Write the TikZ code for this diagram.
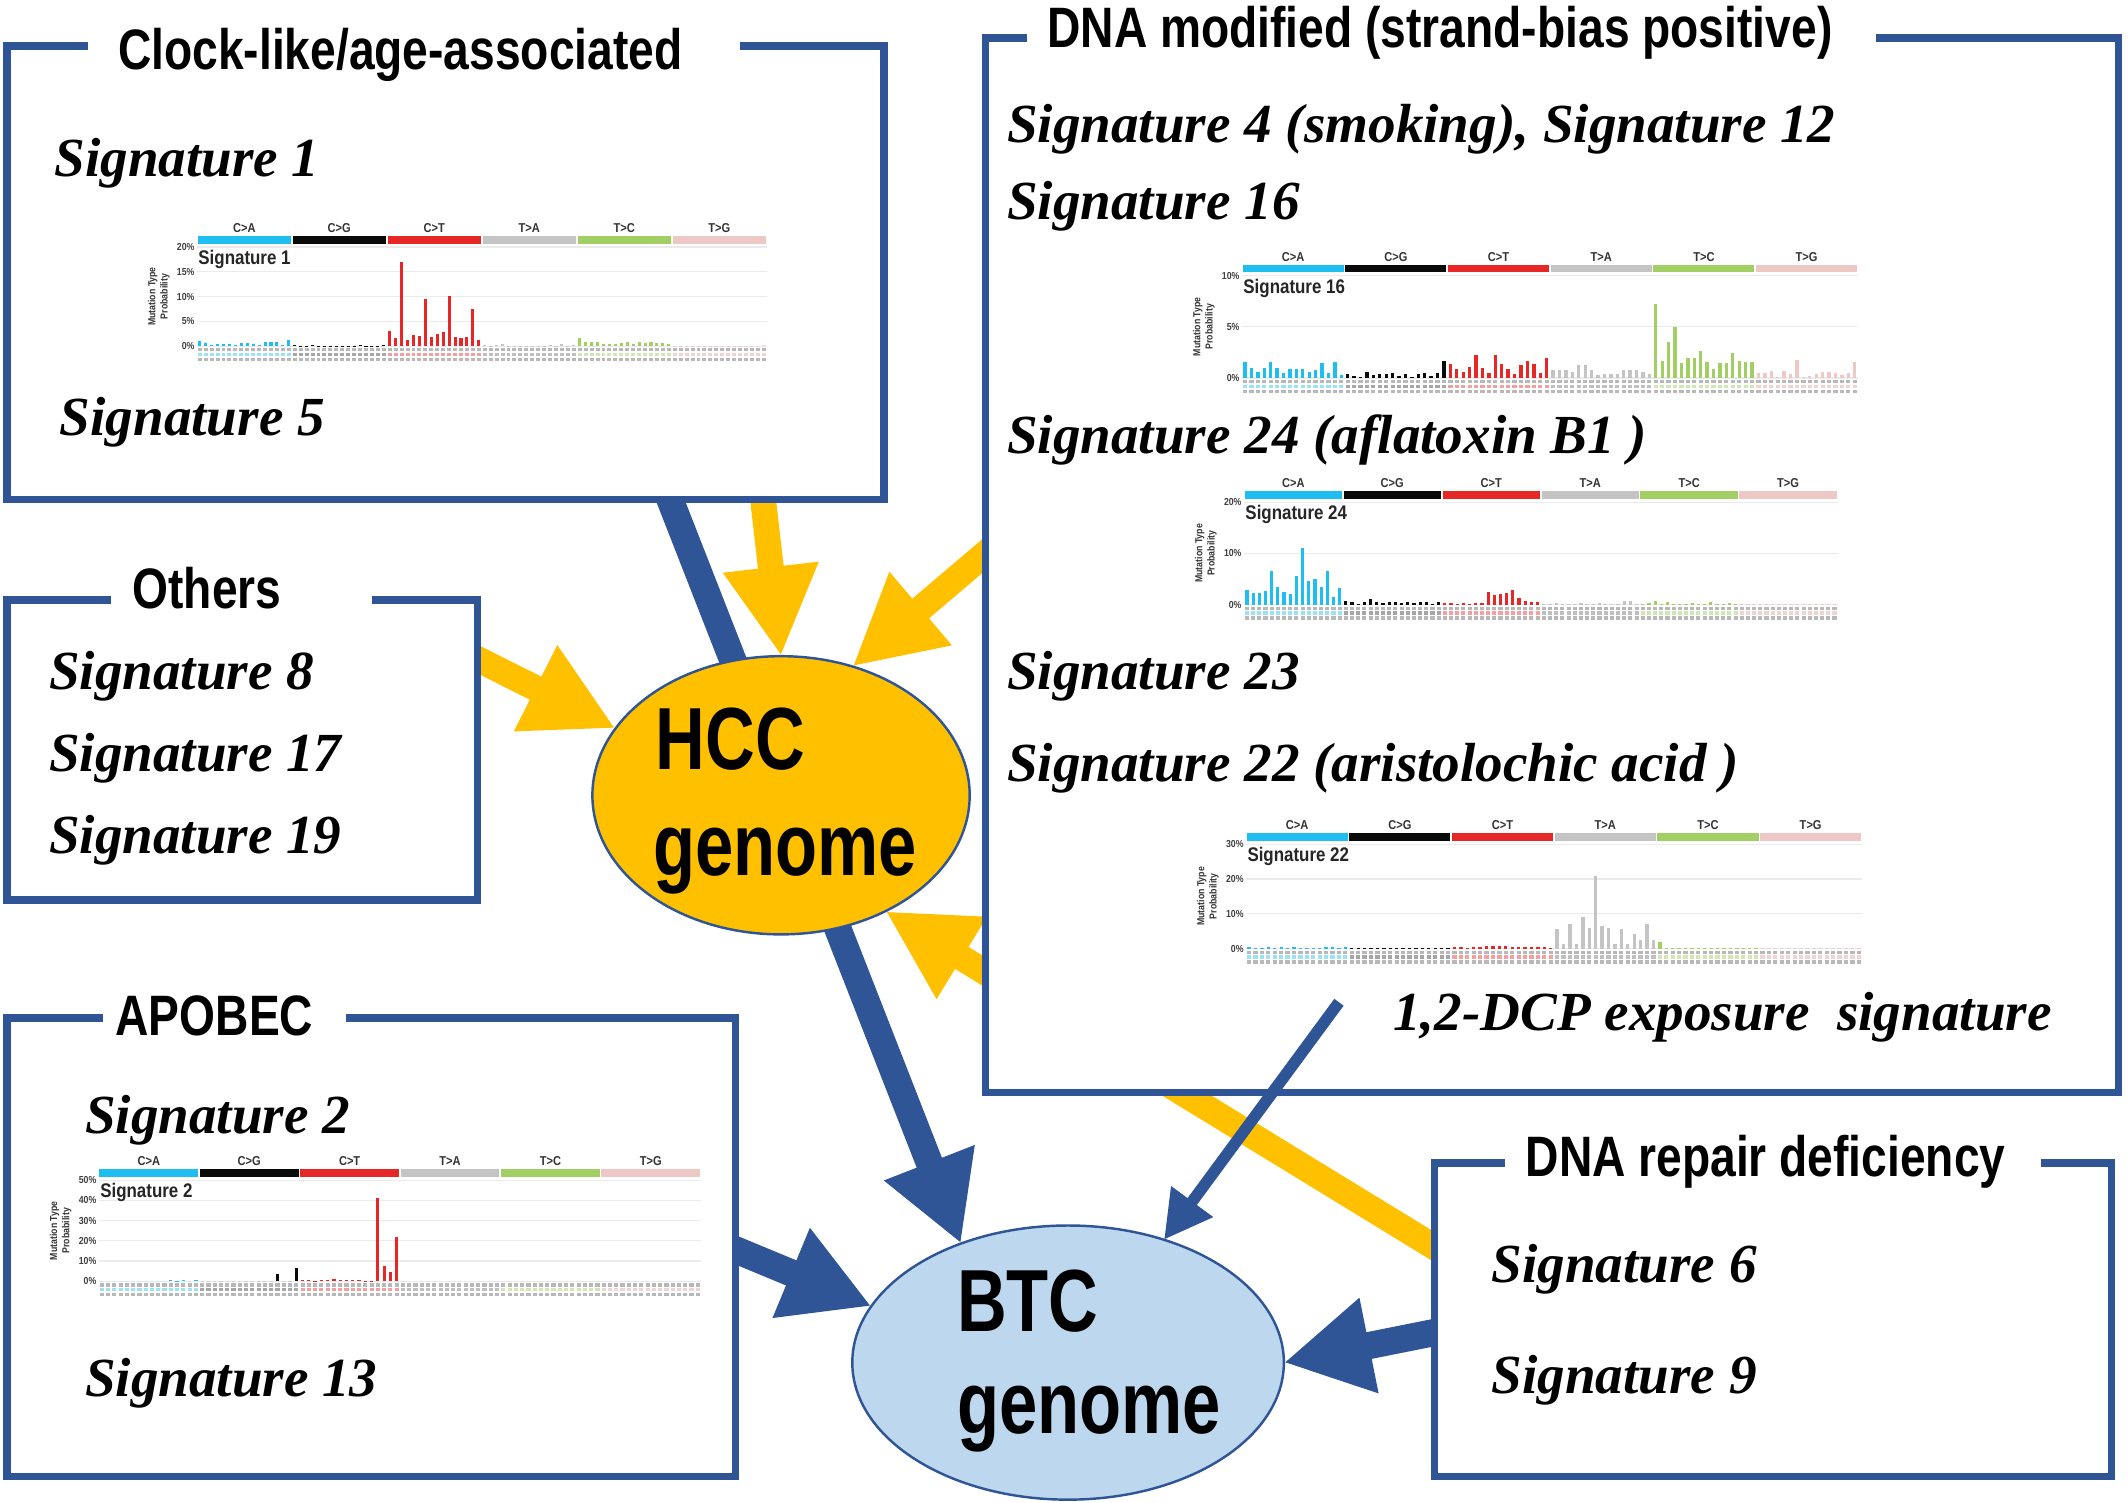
\documentclass[tikz,border=0pt]{standalone}
\usepackage{fontspec}
\setmainfont{Liberation Serif}
\newfontfamily\titlefont[FakeStretch=0.81]{Liberation Sans}
\newfontfamily\genfont[FakeStretch=0.78]{Liberation Sans}
\newfontfamily\chartfont[FakeStretch=0.86]{Liberation Sans}
\usetikzlibrary{arrows.meta,shapes.geometric,backgrounds}

\definecolor{navy}{HTML}{2F5597}
\definecolor{gold}{HTML}{FFC000}
\definecolor{pale}{HTML}{BDD7EE}
\definecolor{sigc0}{HTML}{1EBFF0}
\definecolor{sigc1}{HTML}{0A0A0A}
\definecolor{sigc2}{HTML}{E62725}
\definecolor{sigc3}{HTML}{C4C4C4}
\definecolor{sigc4}{HTML}{A1CF64}
\definecolor{sigc5}{HTML}{EDC8C5}
\colorlet{sigl0}{sigc0!45}
\colorlet{sigl1}{black!35}
\colorlet{sigl2}{sigc2!45}
\colorlet{sigl3}{black!25}
\colorlet{sigl4}{sigc4!50}
\colorlet{sigl5}{sigc5!80}

\tikzset{
  boxfill/.style={fill=white, draw=none, inner sep=0pt, outer sep=0pt},
  boxline/.style={draw=navy, line width=5.5pt, line join=miter, line cap=butt},
  titletext/.style={font={\titlefont\bfseries\fontsize{42}{46}\selectfont}, anchor=base, inner sep=0pt},
  sigtext/.style={font={\bfseries\itshape\fontsize{40.6}{46}\selectfont}, anchor=base west, inner sep=0pt},
  genome/.style={ellipse, draw=navy, line width=1.8pt, inner sep=0pt, outer sep=0pt},
  gentext/.style={font={\genfont\bfseries\fontsize{65}{70}\selectfont}, anchor=base west, inner sep=0pt},
  yarrow/.style={draw=gold, line width=19pt, -{Triangle[width=66pt,length=66pt]}},
  bluearrow/.style={draw=navy, line width=20pt, -{Triangle[width=67pt,length=64pt]}},
  thinarrow/.style={draw=navy, line width=8.5pt, -{Triangle[width=36pt,length=35pt]}},
  cgrid/.style={draw=black!8, line width=0.8pt},
  pctlab/.style={font={\chartfont\bfseries\fontsize{7.5}{7.5}\selectfont}, anchor=east, inner sep=0pt, text=black!75},
  catlab/.style={font={\chartfont\bfseries\fontsize{9.5}{9.5}\selectfont}, anchor=base, inner sep=0pt, text=black!80},
  ctitle/.style={font={\chartfont\bfseries\fontsize{14.5}{14.5}\selectfont}, anchor=base west, inner sep=0pt, text=black!85},
  axlab/.style={font={\chartfont\bfseries\fontsize{7.5}{9}\selectfont}, align=center, inner sep=0pt, rotate=90, text=black!80},
  tickmk/.style={fill=black!28}
}

% #1 name, #2 L, #3 R, #4 ytop, #5 y0, #6 max, #7 step, #8 title, #9 values
\newcommand{\sigchart}[9]{%
  \pgfmathsetmacro\chcw{(#3-#2)/96}
  \pgfmathsetmacro\chsw{(#3-#2)/6}
  \foreach \p in {0,#7,...,#6} {
    \pgfmathsetmacro\chyy{#5-(#5-#4)*\p/#6}
    \draw[cgrid] (#2,\chyy) -- (#3,\chyy);
    \node[pctlab] (#1-p\p) at (#2-1.5,\chyy) {\p\%};
  }
  \foreach \k/\lab in {0/C>A,1/C>G,2/C>T,3/T>A,4/T>C,5/T>G} {
    \fill[sigc\k] (#2+\k*\chsw+0.6,#4-8) rectangle (#2+\k*\chsw+\chsw-0.6,#4-2.5);
    \node[catlab] (#1-c\k) at (#2+\k*\chsw+0.5*\chsw,#4-10.5) {\lab};
  }
  \node[axlab] (#1-a) at (#2-28,{(#4+#5)/2}) {Mutation Type\\Probability};
  \foreach \v [count=\i from 0] in {#9} {
    \pgfmathtruncatemacro\chg{floor(\i/16)}
    \pgfmathsetmacro\chxx{#2+(\i+0.5)*\chcw}
    \pgfmathsetmacro\chhh{(#5-#4)*\v/#6}
    \fill[sigc\chg] (\chxx-0.26*\chcw,#5) rectangle (\chxx+0.26*\chcw,#5-\chhh);
    \fill[tickmk] (\chxx-0.33*\chcw,#5+1.5) rectangle (\chxx+0.33*\chcw,#5+4);
    \fill[sigl\chg] (\chxx-0.33*\chcw,#5+5) rectangle (\chxx+0.33*\chcw,#5+7.5);
    \fill[tickmk] (\chxx-0.33*\chcw,#5+8.5) rectangle (\chxx+0.33*\chcw,#5+11);
  }
  \node[ctitle] (#1-t) at (#2+1,#4+13) {#8};
}

\begin{document}
\begin{tikzpicture}[x=1pt,y=-1pt]
\useasboundingbox (0,0) rectangle (1568,1107);

% ---------- boxes ----------
\node[boxfill, minimum width=646.5pt, minimum height=334pt] (boxA) at (328.25,201) {};
\draw[boxline] ([xshift=60pt]boxA.north west) -- (boxA.north west) -- (boxA.south west) -- (boxA.south east) -- (boxA.north east) -- ([xshift=-106.5pt]boxA.north east);
\node[boxfill, minimum width=347pt, minimum height=221pt] (boxB) at (178.5,552.5) {};
\draw[boxline] ([xshift=77pt]boxB.north west) -- (boxB.north west) -- (boxB.south west) -- (boxB.south east) -- (boxB.north east) -- ([xshift=-78pt]boxB.north east);
\node[boxfill, minimum width=537pt, minimum height=338pt] (boxC) at (273.5,919) {};
\draw[boxline] ([xshift=71pt]boxC.north west) -- (boxC.north west) -- (boxC.south west) -- (boxC.south east) -- (boxC.north east) -- ([xshift=-287pt]boxC.north east);
\node[boxfill, minimum width=835pt, minimum height=777pt] (boxD) at (1143.5,416.5) {};
\draw[boxline] ([xshift=31pt]boxD.north west) -- (boxD.north west) -- (boxD.south west) -- (boxD.south east) -- (boxD.north east) -- ([xshift=-179pt]boxD.north east);
\node[boxfill, minimum width=499pt, minimum height=231pt] (boxE) at (1306.5,972.5) {};
\draw[boxline] ([xshift=52pt]boxE.north west) -- (boxE.north west) -- (boxE.south west) -- (boxE.south east) -- (boxE.north east) -- ([xshift=-52pt]boxE.north east);

% ---------- titles ----------
\node[titletext] (tA) at (295,51) {Clock-like/age-associated};
\node[titletext] (tB) at (152.5,448) {Others};
\node[titletext] (tC) at (158,763) {APOBEC};
\node[titletext] (tD) at (1061,35) {DNA modified (strand-bias positive)};
\node[titletext] (tE) at (1301,867) {DNA repair deficiency};

% ---------- signature texts ----------
\node[sigtext] (s1) at (40,130) {Signature 1};
\node[sigtext] (s5) at (44,321) {Signature 5};
\node[sigtext] (s8) at (36,508) {Signature 8};
\node[sigtext] (s17) at (36,568.5) {Signature 17};
\node[sigtext] (s19) at (36,629) {Signature 19};
\node[sigtext] (s2) at (62.5,835) {Signature 2};
\node[sigtext] (s13) at (62.5,1029) {Signature 13};
\node[sigtext] (s4) at (742,105) {Signature 4 (smoking), Signature 12};
\node[sigtext] (s16) at (742,162) {Signature 16};
\node[sigtext] (s24) at (742,334) {Signature 24 (aflatoxin B1 )};
\node[sigtext] (s23) at (742,508) {Signature 23};
\node[sigtext] (s22) at (742,576) {Signature 22 (aristolochic acid )};
\node[sigtext] (dcp) at (1026.5,759) {1,2-DCP exposure\ \ signature};
\node[sigtext] (s6) at (1099,945) {Signature 6};
\node[sigtext] (s9) at (1099,1027) {Signature 9};

% ---------- charts ----------
\sigchart{c1}{145}{565}{182}{255}{20}{5}{Signature 1}{1.0,0.6,0.3,0.5,0.5,0.5,0.2,0.6,0.6,0.5,0.2,0.8,0.9,0.9,0.3,1.3,0.2,0.1,0.1,0.3,0.1,0.1,0.1,0.1,0.1,0.1,0.1,0.3,0.1,0.1,0.1,0.2,3.0,1.7,17.0,1.3,2.2,2.1,9.5,1.8,2.5,2.8,10.2,1.8,1.7,1.9,7.5,1.3,0.2,0.1,0.2,0.5,0.1,0.1,0.1,0.1,0.1,0.1,0.1,0.2,0.1,0.4,0.1,0.3,1.6,0.9,0.9,0.8,0.5,0.4,0.5,0.6,0.8,0.5,0.8,0.6,0.8,0.7,0.6,0.5,0.1,0.1,0.1,0.1,0.1,0.1,0.1,0.1,0.1,0.1,0.1,0.1,0.1,0.1,0.1,0.2}

\sigchart{c16}{915}{1369}{203}{278.5}{10}{5}{Signature 16}{1.6,1.0,0.6,1.0,1.6,1.0,0.5,0.9,0.9,0.9,0.6,0.8,1.5,0.5,1.6,0.3,0.4,0.2,0.1,0.6,0.3,0.4,0.4,0.5,0.2,0.4,0.1,0.4,0.5,0.2,0.5,1.7,1.4,0.9,0.6,1.1,2.2,1.0,0.5,2.2,1.4,0.9,0.4,1.3,1.7,1.4,0.5,1.9,0.8,0.8,0.8,0.6,1.3,1.3,0.8,0.3,0.4,0.4,0.4,0.8,0.8,0.8,0.6,0.4,7.2,1.7,3.5,5.0,1.5,1.9,1.9,2.6,1.6,0.9,1.5,1.5,2.4,1.7,1.6,1.6,0.5,0.5,0.7,0.1,0.7,0.4,1.8,0.1,0.2,0.4,0.6,0.6,0.5,0.3,0.5,1.6}

\sigchart{c24}{916.5}{1354}{370}{445.5}{20}{10}{Signature 24}{2.8,2.2,2.2,2.7,6.6,3.5,2.4,2.0,5.5,11.0,4.7,5.0,3.5,6.6,1.4,3.2,0.8,0.5,0.1,0.6,1.0,0.5,0.3,0.6,0.5,0.4,0.5,0.4,0.6,0.5,0.2,0.5,0.3,0.3,0.1,0.3,0.1,0.3,0.3,2.5,1.8,2.0,2.2,2.8,1.3,0.8,0.5,0.5,0.1,0.1,0.3,0.1,0.1,0.1,0.3,0.1,0.1,0.3,0.1,0.1,0.1,0.7,0.7,0.1,0.2,0.4,0.7,0.2,0.5,0.2,0.2,0.2,0.4,0.2,0.2,0.6,0.2,0.2,0.3,0.2,0.1,0.1,0.1,0.1,0.1,0.1,0.1,0.1,0.1,0.1,0.1,0.1,0.1,0.1,0.1,0.1}

\sigchart{c22}{918}{1372}{622}{699}{30}{10}{Signature 22}{0.4,0.1,0.1,0.4,0.1,0.4,0.1,0.4,0.1,0.1,0.1,0.1,0.4,0.4,0.1,0.4,0.1,0.1,0.1,0.1,0.1,0.1,0.1,0.1,0.1,0.1,0.1,0.1,0.1,0.1,0.1,0.1,0.4,0.4,0.1,0.6,0.4,0.9,0.9,0.9,0.7,0.4,0.4,0.4,0.4,0.4,0.4,0.1,5.5,1.2,7.0,1.2,9.0,5.8,20.8,6.5,5.8,1.2,5.5,1.3,4.2,2.5,7.0,2.5,2.0,0.3,0.3,0.3,0.3,0.3,0.3,0.1,0.3,0.1,0.3,0.1,0.1,0.1,0.3,0.1,0.1,0.1,0.1,0.1,0.1,0.1,0.1,0.1,0.1,0.1,0.1,0.1,0.1,0.1,0.1,0.1}

\sigchart{c2}{72.7}{516.5}{869.6}{944}{50}{10}{Signature 2}{0,0,0,0,0,0,0,0,0,0,0,0.8,0.2,0.8,0,0.8,0,0,0,0,0,0,0,0,0,0,0,0,3.5,0,0,6.5,0.5,0.4,0.3,0.5,0.5,0.9,0.5,0.6,0.5,0.4,0.3,0.3,41,7.5,4.5,22,0,0,0,0,0,0,0,0,0,0,0,0,0,0,0,0,0,0,0,0,0,0,0,0,0,0,0,0,0,0,0,0,0,0,0,0,0,0,0,0,0,0,0,0,0,0,0,0}

% ---------- genome ellipses ----------
\node[genome, fill=gold, minimum width=278pt, minimum height=205pt] (HCC) at (575.5,586) {};
\node[genome, fill=pale, minimum width=318pt, minimum height=202pt] (BTC) at (787,1004) {};
\node[gentext] (hccA) at (483,567) {HCC};
\node[gentext] (hccB) at (481,645) {genome};
\node[gentext] (btcA) at (705,981) {BTC};
\node[gentext] (btcB) at (705,1056) {genome};

% ---------- connector end points ----------
\coordinate (aA1) at (482.7,340);
\coordinate (aA2) at (559,340);
\coordinate (aB) at (330,474.6);
\coordinate (aD) at (800,345);
\coordinate (aE) at (1080,933);
\coordinate (aC) at (520,911.8);
\coordinate (aE2) at (1080,977.2);
\coordinate (dcp0) at (986.6,738.5);

\begin{pgfonlayer}{background}
  \fill[white] (0,0) rectangle (1568,1107);
  \draw[bluearrow] (aA1) -- (BTC.132);
  \draw[yarrow] (aA2) -- (HCC.north);
  \draw[yarrow] (aB) -- (HCC.158);
  \draw[yarrow] (aD) -- (HCC.61);
  \draw[yarrow] (aE) -- (HCC.-48);
  \draw[bluearrow] (aC) -- (BTC.164);
  \draw[bluearrow] (aE2) -- (BTC.east);
\end{pgfonlayer}
\draw[thinarrow] (dcp0) -- (BTC.52);
\end{tikzpicture}
\end{document}
